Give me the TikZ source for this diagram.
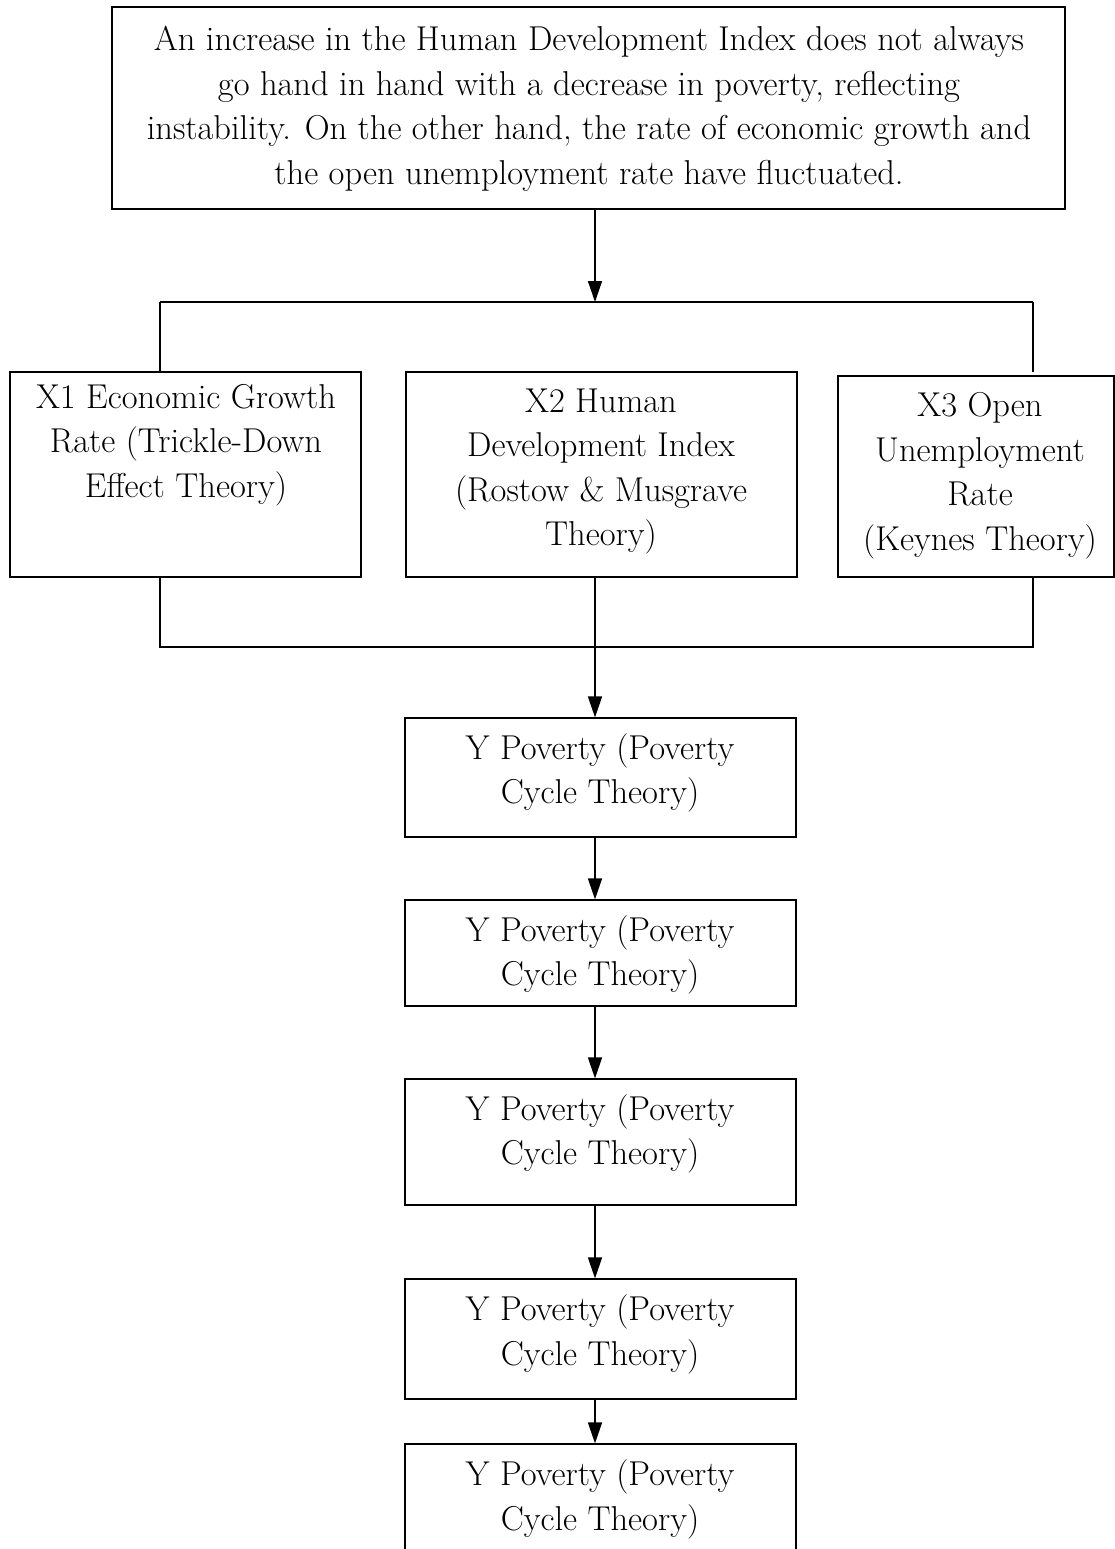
\documentclass[tikz,border=0pt]{standalone}
\usetikzlibrary{arrows.meta}
\begin{document}
\begin{tikzpicture}[x=1pt,y=-1pt,
  box/.style={draw,line width=1.2pt,rectangle,inner sep=0pt},
  txt/.style={align=center,inner sep=0pt,font=\fontsize{34.5}{44.5}\selectfont},
  conn/.style={line width=1.5pt},
  arr/.style={line width=1.5pt,-{Triangle[length=21pt,width=14pt]}}]
\useasboundingbox (0,0) rectangle (1115,1549);
% boxes
\node[box,minimum width=953pt,minimum height=202pt] (top) at (588.5,108) {};
\node[box,minimum width=351pt,minimum height=205pt] (x1) at (185.5,474.5) {};
\node[box,minimum width=391pt,minimum height=205pt] (x2) at (601.5,474.5) {};
\node[box,minimum width=276pt,minimum height=201pt] (x3) at (976,476.5) {};
\node[box,minimum width=391pt,minimum height=119pt] (y1) at (600.5,777.5) {};
\node[box,minimum width=391pt,minimum height=106pt] (y2) at (600.5,953) {};
\node[box,minimum width=391pt,minimum height=126pt] (y3) at (600.5,1142) {};
\node[box,minimum width=391pt,minimum height=120pt] (y4) at (600.5,1339) {};
\node[box,minimum width=391pt,minimum height=160pt] (y5) at (600.5,1524) {};
% texts
\node[txt] (ttop) at (589,109) {An increase in the Human Development Index does not always\\go hand in hand with a decrease in poverty, reflecting\\instability. On the other hand, the rate of economic growth and\\the open unemployment rate have fluctuated.};
\node[txt] (tx1) at (186,445) {X1 Economic Growth\\Rate (Trickle-Down\\Effect Theory)};
\node[txt] (tx2) at (601,471.5) {X2 Human\\Development Index\\(Rostow \& Musgrave\\Theory)};
\node[txt] (tx3) at (980,475.5) {X3 Open\\Unemployment\\Rate\\(Keynes Theory)};
\node[txt] (ty1) at (600,773) {Y Poverty (Poverty\\Cycle Theory)};
\node[txt] (ty2) at (600,955) {Y Poverty (Poverty\\Cycle Theory)};
\node[txt] (ty3) at (600,1134) {Y Poverty (Poverty\\Cycle Theory)};
\node[txt] (ty4) at (600,1334.5) {Y Poverty (Poverty\\Cycle Theory)};
\node[txt] (ty5) at (600,1499.5) {Y Poverty (Poverty\\Cycle Theory)};
% bus coordinates
\coordinate (bt) at (595,302);
\coordinate (btl) at (160,302);
\coordinate (btr) at (1033,302);
\coordinate (bbl) at (160,647);
\coordinate (bbr) at (1033,647);
% connectors
\draw[arr] (bt |- top.south) -- (bt);
\draw[conn] (btl) -- (btr);
\draw[conn] (btl) -- (btl |- x1.north);
\draw[conn] (btr) -- (1033,372);
\draw[conn] (bbl |- x1.south) -- (bbl) -- (bbr) -- (bbr |- x3.south);
\draw[arr] (bt |- x2.south) -- (bt |- y1.north);
\draw[arr] (bt |- y1.south) -- (bt |- y2.north);
\draw[arr] (bt |- y2.south) -- (bt |- y3.north);
\draw[arr] (bt |- y3.south) -- (bt |- y4.north);
\draw[arr] (bt |- y4.south) -- (bt |- y5.north);
\end{tikzpicture}
\end{document}
